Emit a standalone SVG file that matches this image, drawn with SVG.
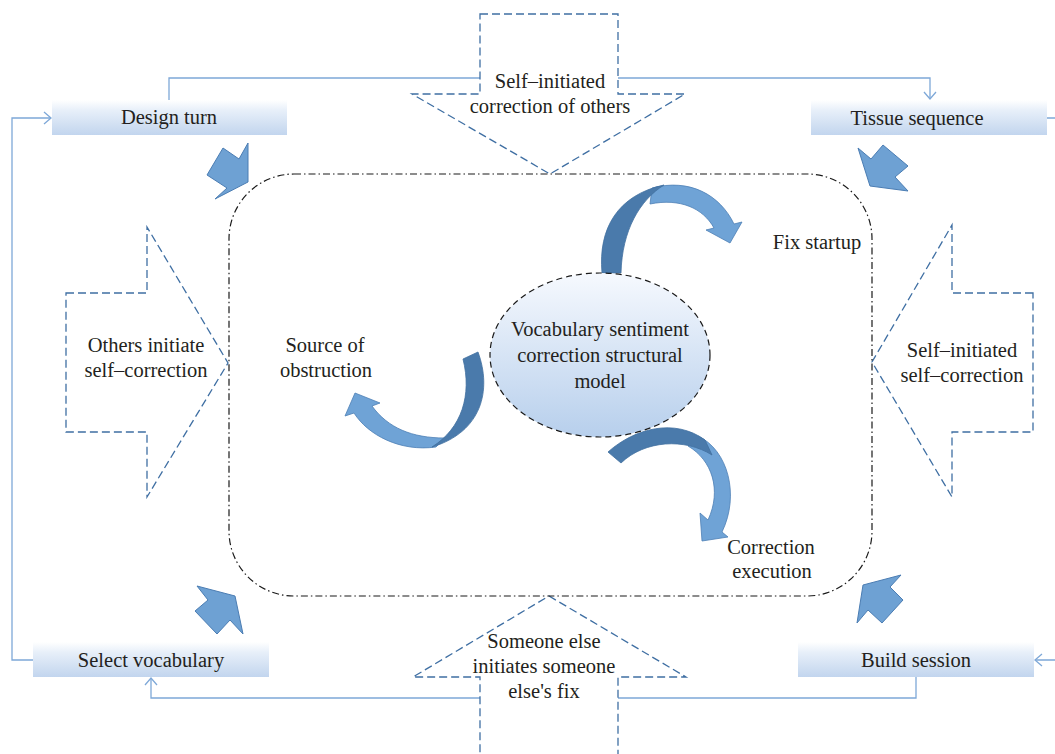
<svg xmlns="http://www.w3.org/2000/svg" width="1055" height="754" viewBox="0 0 1055 754">
<defs>
<linearGradient id="boxg" x1="0" y1="0" x2="0" y2="1">
<stop offset="0" stop-color="#ffffff"/>
<stop offset="0.3" stop-color="#e7eff9"/>
<stop offset="1" stop-color="#c2d5ee"/>
</linearGradient>
<linearGradient id="ellg" x1="0" y1="0" x2="0" y2="1">
<stop offset="0" stop-color="#f6f9fe"/>
<stop offset="1" stop-color="#b7cfec"/>
</linearGradient>
<style>
.conn{fill:none;stroke:#7ea8d8;stroke-width:1.3}
.dash{fill:#ffffff;stroke:#3f6fa3;stroke-width:1.3;stroke-dasharray:8 4}
.frame{fill:none;stroke:#1a1a1a;stroke-width:1.2;stroke-dasharray:7 3 1.5 3}
.box{fill:url(#boxg)}
.blk{fill:#6ea1d3;stroke:#4b7db3;stroke-width:1}
.dk{fill:#4a7aab;stroke:#41709f;stroke-width:0.8}
.lt{fill:#6fa3d6;stroke:#4c7fb5;stroke-width:0.8}
text{font-family:"Liberation Serif","Times New Roman",serif;font-size:20.5px;fill:#231f20;text-anchor:middle}
</style>
</defs>
<rect width="1055" height="754" fill="#ffffff"/>

<g id="connectors">
<polyline class="conn" points="169,100 169,78 930,78 930,99"/>
<polyline class="conn" points="924,92 930,99 936,92"/>
<polyline class="conn" points="1047,118 1060,118 1060,660 1035,660"/>
<polyline class="conn" points="1042,654 1035,660 1042,666"/>
<polyline class="conn" points="916,677 916,698 151,698 151,678"/>
<polyline class="conn" points="145,685 151,678 157,685"/>
<polyline class="conn" points="33,660 12,660 12,118 51,118"/>
<polyline class="conn" points="44,112 51,118 44,124"/>
</g>

<g id="arrow-top">
<polygon class="dash" points="480,14 618,14 618,94 685,94 550,174 412,94 480,94"/>
</g>
<g id="arrow-bottom">
<polygon class="dash" points="549,596 686,677 618,677 618,760 480,760 480,677 413,677"/>
</g>
<g id="arrow-left">
<polygon class="dash" points="66,293 147,293 147,227 228,363 147,497 147,432 66,432"/>
</g>
<g id="arrow-right">
<polygon class="dash" points="1033,293 952,293 952,225 872,362 952,497 952,432 1033,432"/>
</g>

<g id="frame">
<rect class="frame" x="229" y="174" width="643" height="422" rx="65" ry="65"/>
</g>

<g id="design-turn">
<rect class="box" x="52" y="100" width="235" height="35"/>
<text x="169" y="124">Design turn</text>
</g>
<g id="tissue-sequence">
<rect class="box" x="811" y="100" width="236" height="35"/>
<text x="917" y="125">Tissue sequence</text>
</g>
<g id="select-vocabulary">
<rect class="box" x="33" y="642" width="236" height="35"/>
<text x="151" y="667">Select vocabulary</text>
</g>
<g id="build-session">
<rect class="box" x="798" y="642" width="236" height="35"/>
<text x="916" y="667">Build session</text>
</g>

<g id="block-arrows">
<polygon class="blk" points="223,148 239,159 248,143 248,182 215,199 227,188 207,175"/>
<polygon class="blk" points="858,148 871,159 883,145 908,166 895,177 908,191 870,186"/>
<polygon class="blk" points="197,586 235,596 243,634 230,620 217,634 195,611 208,600"/>
<polygon class="blk" points="863,585 901,575 890,587 903,600 882,623 868,610 857,623"/>
</g>

<g id="curved-fix-startup">
<path class="lt" d="M652,188 C690,178 720,195 734,224 L742,222 L730,243 L706,230 L714,228 C703,208 680,198 650,204 Z"/>
<path class="dk" d="M602,273 C598,228 618,195 664,185 C640,200 622,230 621,273 Z"/>
</g>
<g id="curved-source">
<path class="lt" d="M436,447 C400,452 368,435 354,413 L345,416 L355,393 L380,403 L372,406 C388,428 412,438 445,438 Z"/>
<path class="dk" d="M463,359 L478,352 C492,390 482,432 432,447 C462,428 472,395 463,359 Z"/>
</g>
<g id="curved-execution">
<path class="lt" d="M698,436 C728,450 740,495 722,532 L728,537 L702,541 L700,513 L708,520 C722,490 712,460 688,446 Z"/>
<path class="dk" d="M608,452 C635,428 675,418 705,440 L712,455 C685,438 645,440 621,463 Z"/>
</g>

<g id="model">
<ellipse cx="600" cy="355" rx="110" ry="82" fill="url(#ellg)" stroke="#1a1a1a" stroke-width="1.2" stroke-dasharray="6 4"/>
<text x="600" y="336">Vocabulary sentiment</text>
<text x="600" y="362">correction structural</text>
<text x="600" y="388">model</text>
</g>

<g id="labels">
<text x="550" y="88">Self–initiated</text>
<text x="550" y="113">correction of others</text>
<text x="544" y="648">Someone else</text>
<text x="544" y="673">initiates someone</text>
<text x="544" y="698">else's fix</text>
<text x="146" y="352">Others initiate</text>
<text x="146" y="377">self–correction</text>
<text x="962" y="357">Self–initiated</text>
<text x="962" y="382">self–correction</text>
<text x="817" y="249">Fix startup</text>
<text x="325" y="352">Source of</text>
<text x="326" y="377">obstruction</text>
<text x="771" y="554">Correction</text>
<text x="772" y="578">execution</text>
</g>
</svg>
